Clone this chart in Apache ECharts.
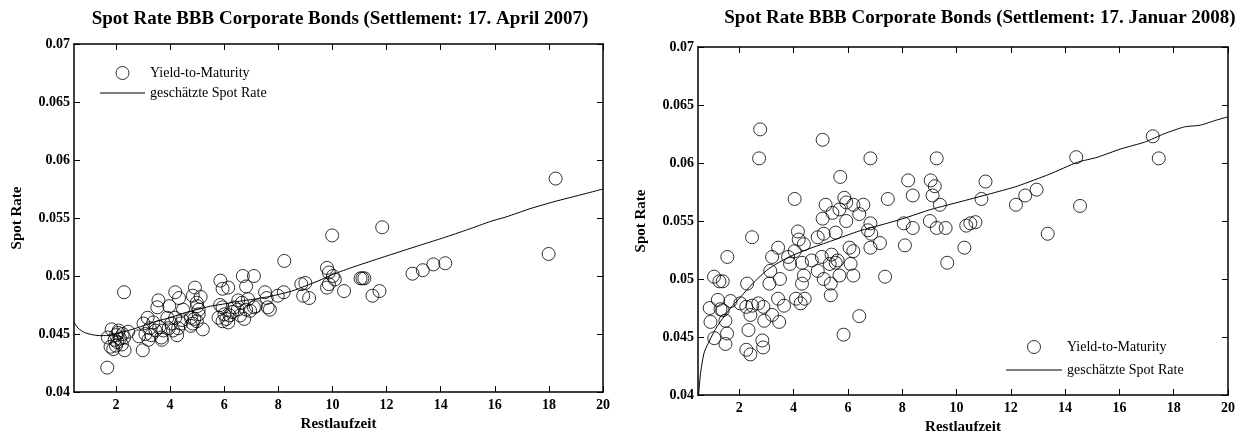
<!DOCTYPE html>
<html>
<head>
<meta charset="utf-8">
<script src="https://cdn.jsdelivr.net/npm/echarts@6/dist/echarts.min.js"></script>
<style>
  html, body { margin: 0; padding: 0; background: #fff; }
  #main { width: 1243px; height: 440px; }
</style>
</head>
<body>
<div id="main"></div>
<script>
// 左图：17. April 2007
var leftYtmX = [1.68, 2.30,
    1.70, 1.84, 1.80, 1.95, 2.00, 2.08, 2.15, 2.22, 2.32, 2.10, 2.25, 2.45, 2.00, 1.90, 2.05, 2.30,
    3.02, 3.09, 2.99, 3.17, 3.31, 3.46, 3.53, 3.57, 3.68, 3.60, 3.38, 3.20, 2.85, 3.25, 3.70,
    3.97, 4.19, 4.33, 3.90, 4.04, 4.26, 4.40, 4.11, 4.48, 3.75, 4.19, 4.45, 3.95, 4.30,
    4.92, 4.84, 5.13, 4.99, 4.77, 4.99, 5.21, 4.84, 5.06, 4.77, 5.06, 4.90, 5.00,
    5.86, 5.94, 6.15, 5.79, 5.94, 6.01, 6.08, 6.15, 6.30, 6.37, 6.52, 5.94, 6.20, 5.85,
    6.69, 7.10, 6.81, 6.66, 6.81, 6.59, 6.74, 6.96, 7.17, 6.88, 7.10, 6.50,
    7.51, 7.57, 7.69, 7.61, 7.98, 8.20, 8.22,
    8.85, 9.00, 8.92, 9.14,
    9.80, 9.87, 10.02, 10.09, 9.80, 9.87, 9.99, 10.43,
    11.04, 11.11, 11.18, 11.48, 11.74, 11.84,
    12.96, 13.34, 13.73, 14.17, 17.99, 18.25];
var leftYtmY = [0.0421, 0.0486,
    0.0447, 0.0454, 0.0439, 0.0445, 0.0449, 0.0451, 0.0446, 0.0441, 0.0436, 0.0453, 0.0450, 0.0452, 0.0440, 0.0437, 0.0443, 0.0447,
    0.0459, 0.0450, 0.0436, 0.0464, 0.0449, 0.0453, 0.0473, 0.0479, 0.0447, 0.0456, 0.0460, 0.0445, 0.0448, 0.0455, 0.0445,
    0.0474, 0.0486, 0.0481, 0.0464, 0.0459, 0.0449, 0.0459, 0.0453, 0.0471, 0.0453, 0.0464, 0.0462, 0.0455, 0.0455,
    0.0490, 0.0483, 0.0482, 0.0477, 0.0464, 0.0461, 0.0454, 0.0459, 0.0467, 0.0457, 0.0471, 0.0463, 0.0474,
    0.0496, 0.0489, 0.0490, 0.0464, 0.0473, 0.0467, 0.0463, 0.0460, 0.0469, 0.0473, 0.0479, 0.0461, 0.0466, 0.0475,
    0.0500, 0.0500, 0.0491, 0.0477, 0.0471, 0.0466, 0.0463, 0.0470, 0.0474, 0.0480, 0.0473, 0.0471,
    0.0486, 0.0481, 0.0471, 0.0473, 0.0483, 0.0486, 0.0513,
    0.0493, 0.0494, 0.0483, 0.0481,
    0.0507, 0.0503, 0.0500, 0.0497, 0.0490, 0.0493, 0.0535, 0.0487,
    0.0498, 0.0498, 0.0498, 0.0483, 0.0487, 0.0542,
    0.0502, 0.0505, 0.0510, 0.0511, 0.0519, 0.0584];
var leftSpotX = [0.45, 0.6, 0.83, 1.1, 1.4, 1.71, 2.15, 2.6, 3.02, 3.5, 4.04, 4.5, 5.06, 5.5, 5.94, 6.5, 7.10, 7.6, 8.05, 8.5, 9.00, 9.5, 10.02, 10.8, 11.62, 12.5, 13.3, 14.10, 15.0, 15.85, 16.43, 17.3, 18.18, 19.35, 20];
var leftSpotY = [0.0460, 0.0455, 0.04514, 0.04495, 0.04486, 0.04487, 0.04510, 0.0454, 0.04571, 0.0461, 0.04643, 0.0468, 0.04714, 0.0474, 0.04757, 0.0478, 0.0480, 0.0482, 0.04843, 0.0487, 0.04914, 0.0496, 0.05014, 0.0508, 0.05143, 0.0521, 0.0527, 0.05329, 0.0540, 0.05471, 0.0551, 0.0558, 0.0564, 0.0571, 0.0575];

// 右图：17. Januar 2008
var rightYtmX = [2.77, 2.73, 5.07, 6.83, 9.27, 4.04, 5.72, 5.18, 5.43, 5.87, 5.94, 6.20, 6.57, 6.42, 5.69,
    7.47, 8.22, 8.39, 9.05, 9.20, 9.12, 9.39, 10.92, 11.07, 12.19, 12.53, 12.95, 14.41, 14.55, 17.23, 17.45,
    5.07, 5.94, 8.06, 9.02, 10.51, 10.70, 6.83,
    13.36, 1.07, 1.39, 1.27, 1.56, 2.47, 2.29, 0.91, 0.94, 1.21, 1.31, 1.39, 1.49, 1.55, 1.49, 1.08,
    1.68, 2.04, 2.26, 2.48, 2.70, 2.89, 2.41, 2.34, 2.26, 2.41, 2.92, 2.85, 2.88,
    3.21, 3.11, 3.14, 3.21, 3.43, 3.50, 3.47, 3.43, 3.65, 3.80, 3.87, 4.04, 4.16, 4.19, 4.38, 4.31, 4.38,
    4.31, 4.09, 4.26, 4.41, 4.67, 4.89, 5.11, 5.55, 4.89, 5.04, 5.33, 5.40, 5.55, 5.62, 5.11, 5.37, 5.37,
    5.69, 5.84, 6.06, 6.10, 6.20, 6.20, 6.42, 6.74, 6.86, 6.83, 7.18, 7.37, 8.10, 8.39, 9.27, 9.60, 9.66,
    10.29, 10.36];
var rightYtmY = [0.0629, 0.0604, 0.0620, 0.0604, 0.0604, 0.0569, 0.0588, 0.0564, 0.0557, 0.0570, 0.0566, 0.0564, 0.0564, 0.0556, 0.0560,
    0.0569, 0.0585, 0.0572, 0.0585, 0.0580, 0.0572, 0.0564, 0.0569, 0.0584, 0.0564, 0.0572, 0.0577, 0.0605, 0.0563, 0.0623, 0.0604,
    0.0552, 0.0550, 0.0548, 0.0550, 0.0548, 0.0549, 0.0548,
    0.0539, 0.0502, 0.0498, 0.0498, 0.0519, 0.0536, 0.0496, 0.0475, 0.0463, 0.0482, 0.0474, 0.0473, 0.0464, 0.0453, 0.0444, 0.0449,
    0.0481, 0.0479, 0.0476, 0.0477, 0.0479, 0.0476, 0.0469, 0.0456, 0.0439, 0.0435, 0.0464, 0.0447, 0.0441,
    0.0469, 0.0496, 0.0507, 0.0519, 0.0527, 0.0500, 0.0463, 0.0483, 0.0477, 0.0519, 0.0513, 0.0524, 0.0541, 0.0534, 0.0530, 0.0514, 0.0503,
    0.0496, 0.0483, 0.0479, 0.0483, 0.0516, 0.0536, 0.0539, 0.0540, 0.0507, 0.0519, 0.0513, 0.0521, 0.0514, 0.0516, 0.0500, 0.0496, 0.0486,
    0.0503, 0.0452, 0.0527, 0.0513, 0.0524, 0.0503, 0.0468, 0.0542, 0.0539, 0.0527, 0.0531, 0.0502, 0.0529, 0.0544, 0.0544, 0.0544, 0.0514,
    0.0527, 0.0546];
var rightSpotX = [0.50, 0.58, 0.70, 0.85, 1.17, 1.61, 2.04, 2.48, 3.07, 3.80, 4.53, 5.40, 6.42, 7.30, 8.03, 9.05, 10.22, 11.39, 12.26, 13.43, 14.45, 15.18, 16.06, 16.93, 17.66, 18.39, 18.98, 19.56, 20];
var rightSpotY = [0.0400, 0.0420, 0.0436, 0.04443, 0.04586, 0.04729, 0.04843, 0.04957, 0.05086, 0.05186, 0.05257, 0.05329, 0.05414, 0.05471, 0.0552, 0.05599, 0.05671, 0.05744, 0.05802, 0.05904, 0.06006, 0.06049, 0.06122, 0.0618, 0.06253, 0.06311, 0.06326, 0.06369, 0.06398];

var xTicks = [2, 4, 6, 8, 10, 12, 14, 16, 18, 20];
var titles = ['Spot Rate BBB Corporate Bonds (Settlement: 17. April 2007)',
              'Spot Rate BBB Corporate Bonds (Settlement: 17. Januar 2008)'];
var legendNames = ['Yield-to-Maturity', 'geschätzte Spot Rate'];

function pairs(xs, ys) {
    var arr = [];
    for (var i = 0; i < xs.length; i++) {
        arr.push([xs[i], ys[i]]);
    }
    return arr;
}

var serif = '"Liberation Serif", "Times New Roman", serif';

function xAxisCfg(grid, xmin, main) {
    return {
        type: 'value', gridIndex: grid, min: xmin, max: 20,
        position: main ? 'bottom' : 'top',
        splitLine: { show: false },
        axisLine: { show: true, onZero: false, lineStyle: { color: '#000', width: 1.5 } },
        axisTick: { show: true, inside: true, length: 6, customValues: xTicks, lineStyle: { color: '#000' } },
        axisLabel: { show: main, customValues: xTicks, margin: 6, color: '#000', fontFamily: serif, fontWeight: 'bold', fontSize: 14 },
        name: main ? 'Restlaufzeit' : '',
        nameLocation: 'middle', nameGap: 25,
        nameTextStyle: { color: '#000', fontFamily: serif, fontWeight: 'bold', fontSize: 15 }
    };
}
function yAxisCfg(grid, main) {
    return {
        type: 'value', gridIndex: grid, min: 0.04, max: 0.07, interval: 0.005,
        position: main ? 'left' : 'right',
        splitLine: { show: false },
        axisLine: { show: true, onZero: false, lineStyle: { color: '#000', width: 1.5 } },
        axisTick: { show: true, inside: true, length: 6, lineStyle: { color: '#000' } },
        axisLabel: { show: main, margin: 4, color: '#000', fontFamily: serif, fontWeight: 'bold', fontSize: 14 },
        name: main ? 'Spot Rate' : '',
        nameLocation: 'middle', nameGap: 49, nameRotate: 90,
        nameTextStyle: { color: '#000', fontFamily: serif, fontWeight: 'bold', fontSize: 15 }
    };
}

// 图例图标：空心圆 + 细线
var legendData = [
    { name: legendNames[0], icon: 'circle', itemStyle: { color: '#fff', borderColor: '#000', borderWidth: 1 } },
    { name: legendNames[1], icon: 'path://M0,0H45V1H0Z', itemStyle: { color: '#000', borderWidth: 0 } }
];
// 散点：透明填充的圆圈，重叠时都能看到
var ringStyle = { color: 'rgba(0,0,0,0)', borderColor: '#000', borderWidth: 1 };

var mychart = echarts.init(document.getElementById('main'));
var option = {
    backgroundColor: '#fff',
    animation: false,
    title: [
        { text: titles[0], left: 335, top: 5, textAlign: 'center',
          textStyle: { color: '#000', fontFamily: serif, fontWeight: 'bold', fontSize: 19 } },
        { text: titles[1], left: 975, top: 4, textAlign: 'center',
          textStyle: { color: '#000', fontFamily: serif, fontWeight: 'bold', fontSize: 19 } }
    ],
    legend: [
        { left: 95, top: 61, orient: 'vertical', itemWidth: 45, itemHeight: 13, itemGap: 6,
          data: legendData, selectedMode: false,
          textStyle: { color: '#000', fontFamily: serif, fontSize: 14 } },
        { left: 1001, top: 335, orient: 'vertical', itemWidth: 56, itemHeight: 13, itemGap: 9,
          data: legendData, selectedMode: false,
          textStyle: { color: '#000', fontFamily: serif, fontSize: 14 } }
    ],
    grid: [
        { left: 74, right: 640, top: 44, bottom: 48 },
        { left: 698, right: 15, top: 47, bottom: 45 }
    ],
    xAxis: [xAxisCfg(0, 0.45, true), xAxisCfg(0, 0.45, false), xAxisCfg(1, 0.48, true), xAxisCfg(1, 0.48, false)],
    yAxis: [yAxisCfg(0, true), yAxisCfg(0, false), yAxisCfg(1, true), yAxisCfg(1, false)],
    series: [
        { name: legendNames[0], type: 'scatter', xAxisIndex: 0, yAxisIndex: 0,
          symbol: 'circle', symbolSize: 13, itemStyle: ringStyle,
          data: pairs(leftYtmX, leftYtmY) },
        { name: legendNames[1], type: 'line', xAxisIndex: 0, yAxisIndex: 0,
          symbol: 'none', smooth: 0.2,
          itemStyle: { color: '#000' },
          lineStyle: { color: '#000', width: 1 },
          data: pairs(leftSpotX, leftSpotY) },
        { name: legendNames[0], type: 'scatter', xAxisIndex: 2, yAxisIndex: 2,
          symbol: 'circle', symbolSize: 13, itemStyle: ringStyle,
          data: pairs(rightYtmX, rightYtmY) },
        { name: legendNames[1], type: 'line', xAxisIndex: 2, yAxisIndex: 2,
          symbol: 'none', smooth: 0.2, clip: true,
          itemStyle: { color: '#000' },
          lineStyle: { color: '#000', width: 1 },
          data: pairs(rightSpotX, rightSpotY) }
    ]
};
mychart.setOption(option);
</script>
</body>
</html>
